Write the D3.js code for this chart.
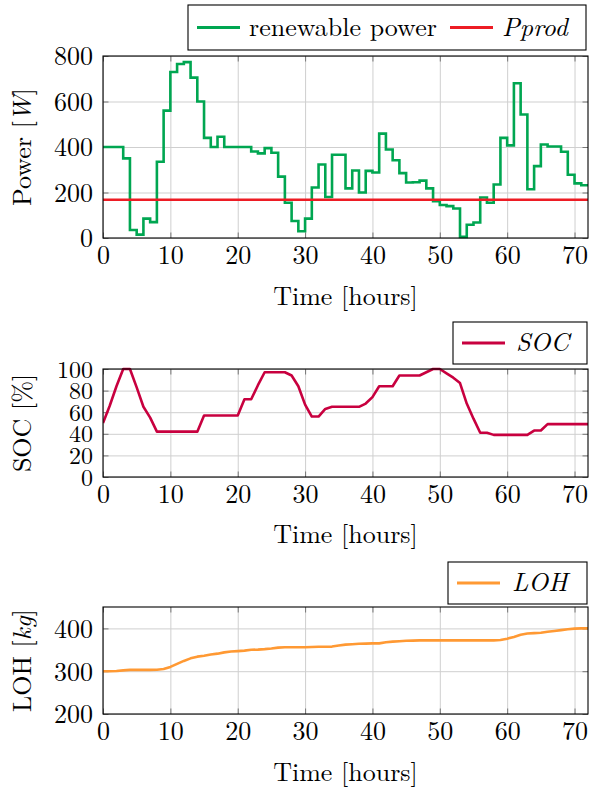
<!DOCTYPE html>
<html><head><meta charset="utf-8">
<script src="https://cdn.jsdelivr.net/npm/d3@7"></script>
<style>
body{margin:0;background:#fff;}
svg text{font-family:"Latin Modern Roman","CMU Serif","Liberation Serif","Tinos","Noto Serif","DejaVu Serif","FreeSerif","Nimbus Roman","Times New Roman",Times,Georgia,serif !important;fill:#000;}
</style></head>
<body><svg id="c" width="590" height="791"></svg>
<script>
// ---- data ----
const timeTicks = [0,10,20,30,40,50,60,70];
const powerTicks = [0,200,400,600,800];
const socTicks = [0,20,40,60,80,100];
const lohTicks = [200,300,400];
// hourly renewable power (W), value held for hour h..h+1
const renewable = [400,400,400,350,35,15,85,70,335,560,730,765,773,705,600,440,400,445,400,400,
  400,400,380,372,395,375,270,155,75,30,85,222,323,180,366,366,218,297,200,295,
  288,459,389,342,285,244,245,252,218,162,145,140,130,5,58,68,178,155,235,440,
  407,680,543,214,316,411,402,402,379,278,240,232];
const pprod = 168;
// state of charge (%) at each hour 0..72
const soc = [50,66,84,100,100,83,65,55,42,42,42,42,42,42,42,57,57,57,57,57,
  57,72,72,85,97,97,97,97,94,84,67,56,56,63,65,65,65,65,65,68,
  74,84,84,84,94,94,94,94,97,100,100,96,92,87,68,54,41,41,39,39,
  39,39,39,39,43,43,49,49,49,49,49,49,49];
// level of hydrogen (kg) at each hour 0..72
const loh = [300,300,300.5,302,303,303,303,303,303.5,305,310,317,324,330,334,336,339,341,344,346,
  347,348,350,350.5,351.5,353,355,356,356,356,356,356.5,357,357,357.5,360,362,363,364,364.5,
  365,365,367.5,369,370,371,371.5,372,372,372,372,372,372,372,372,372,372,372,372,373,
  376,380,385,388,389,390,392,394,396,398,399.5,400,400];

const svg = d3.select("#c");
const FS = 26;
const X0 = 103, X1 = 588;

function panel(o){
  const g = svg.append("g");
  const x = d3.scaleLinear().domain([0,72]).range([X0,X1]);
  const y = d3.scaleLinear().domain(o.ydom).range([o.bottom,o.top]);
  // grid
  g.append("g").attr("transform",`translate(0,${o.bottom})`)
    .call(d3.axisBottom(x).tickValues(timeTicks).tickSize(-(o.bottom-o.top)).tickFormat(""))
    .call(a=>{a.select(".domain").remove();a.selectAll("line").attr("stroke","#cfcfcf").attr("stroke-width",1);});
  g.append("g").attr("transform",`translate(${X0},0)`)
    .call(d3.axisLeft(y).tickValues(o.yticks).tickSize(-(X1-X0)).tickFormat(""))
    .call(a=>{a.select(".domain").remove();a.selectAll("line").attr("stroke","#cfcfcf").attr("stroke-width",1);});
  // inner tick marks
  const tk = 5.5, tc="#777";
  g.append("g").attr("transform",`translate(0,${o.bottom})`)
    .call(d3.axisTop(x).tickValues(timeTicks).tickSize(tk).tickFormat(""))
    .call(a=>{a.select(".domain").remove();a.selectAll("line").attr("stroke",tc);});
  g.append("g").attr("transform",`translate(0,${o.top})`)
    .call(d3.axisBottom(x).tickValues(timeTicks).tickSize(tk).tickFormat(""))
    .call(a=>{a.select(".domain").remove();a.selectAll("line").attr("stroke",tc);});
  g.append("g").attr("transform",`translate(${X0},0)`)
    .call(d3.axisRight(y).tickValues(o.yticks).tickSize(tk).tickFormat(""))
    .call(a=>{a.select(".domain").remove();a.selectAll("line").attr("stroke",tc);});
  g.append("g").attr("transform",`translate(${X1},0)`)
    .call(d3.axisLeft(y).tickValues(o.yticks).tickSize(tk).tickFormat(""))
    .call(a=>{a.select(".domain").remove();a.selectAll("line").attr("stroke",tc);});
  // data
  const clip = "clip"+o.id;
  svg.append("clipPath").attr("id",clip).append("rect")
    .attr("x",X0).attr("y",o.top-2).attr("width",X1-X0).attr("height",o.bottom-o.top+4);
  o.draw(g.append("g").attr("clip-path",`url(#${clip})`), x, y);
  // frame
  g.append("rect").attr("x",X0).attr("y",o.top).attr("width",X1-X0).attr("height",o.bottom-o.top)
    .attr("fill","none").attr("stroke","#000").attr("stroke-width",1.1);
  // tick labels
  g.append("g").attr("transform",`translate(0,${o.bottom})`)
    .call(d3.axisBottom(x).tickValues(timeTicks).tickSize(0).tickPadding(8))
    .call(a=>{a.attr("font-size",FS);a.select(".domain").remove();a.selectAll("text").attr("font-size",FS);});
  g.append("g").attr("transform",`translate(${X0},0)`)
    .call(d3.axisLeft(y).tickValues(o.yticks).tickSize(0).tickPadding(10))
    .call(a=>{a.attr("font-size",o.yfs||FS);a.select(".domain").remove();a.selectAll("text").attr("font-size",o.yfs||FS).attr("dy","0.34em");});
  // axis titles
  g.append("text").attr("x",(X0+X1)/2).attr("y",o.xlabY).attr("text-anchor","middle")
    .attr("font-size",FS).text("Time [hours]");
  const yl = g.append("text").attr("transform",`translate(31,${(o.top+o.bottom)/2}) rotate(-90)`)
    .attr("text-anchor","middle").attr("font-size",FS);
  yl.append("tspan").text(o.ylab[0]);
  if(o.ylab[1]){ yl.append("tspan").attr("font-style","italic").text(o.ylab[1]); yl.append("tspan").text("]"); }
  // legend
  const L = svg.append("g");
  L.append("rect").attr("x",o.leg.x0).attr("y",o.leg.y0).attr("width",o.leg.x1-o.leg.x0).attr("height",o.leg.y1-o.leg.y0)
    .attr("fill","#fff").attr("stroke","#000").attr("stroke-width",1.1);
  const ly=(o.leg.y0+o.leg.y1)/2;
  o.leg.items.forEach(it=>{
    L.append("line").attr("x1",it.lx).attr("x2",it.lx+43).attr("y1",ly).attr("y2",ly)
      .attr("stroke",it.color).attr("stroke-width",3);
    L.append("text").attr("x",it.tx).attr("y",ly+8).attr("font-size",FS)
      .attr("font-style",it.italic?"italic":null).text(it.label);
  });
}

const green="#00a651", red="#ed1c24", crimson="#c8003f", orange="#ff9933";

panel({id:1, top:56, bottom:238, ydom:[0,800], yticks:powerTicks, xlabY:305,
  ylab:["Power [","W"],
  leg:{x0:188,x1:586,y0:5,y1:50,items:[
    {lx:197,tx:249,color:green,label:"renewable power"},
    {lx:450,tx:502,color:red,label:"Pprod",italic:true}]},
  draw:(g,x,y)=>{
    const pts = renewable.map((v,i)=>[i,v]).concat([[72,renewable[71]]]);
    g.append("path").datum(pts).attr("fill","none").attr("stroke",green).attr("stroke-width",2.6)
      .attr("d",d3.line().x(d=>x(d[0])).y(d=>y(d[1])).curve(d3.curveStepAfter));
    g.append("path").datum([[0,pprod],[72,pprod]]).attr("fill","none").attr("stroke",red).attr("stroke-width",2.6)
      .attr("d",d3.line().x(d=>x(d[0])).y(d=>y(d[1])));
  }});

panel({id:2, top:369, bottom:477, ydom:[0,100], yticks:socTicks, xlabY:543, yfs:24,
  ylab:["SOC [%]"],
  leg:{x0:453,x1:587,y0:322,y1:364,items:[
    {lx:462,tx:516,color:crimson,label:"SOC",italic:true}]},
  draw:(g,x,y)=>{
    g.append("path").datum(soc).attr("fill","none").attr("stroke",crimson).attr("stroke-width",2.6)
      .attr("stroke-linejoin","round")
      .attr("d",d3.line().x((d,i)=>x(i)).y(d=>y(d)));
  }});

panel({id:3, top:607, bottom:714, ydom:[200,450], yticks:lohTicks, xlabY:781,
  ylab:["LOH [","kg"],
  leg:{x0:448,x1:587,y0:562,y1:604,items:[
    {lx:457,tx:512,color:orange,label:"LOH",italic:true}]},
  draw:(g,x,y)=>{
    g.append("path").datum(loh).attr("fill","none").attr("stroke",orange).attr("stroke-width",2.6)
      .attr("stroke-linejoin","round")
      .attr("d",d3.line().x((d,i)=>x(i)).y(d=>y(d)));
  }});
</script></body></html>
